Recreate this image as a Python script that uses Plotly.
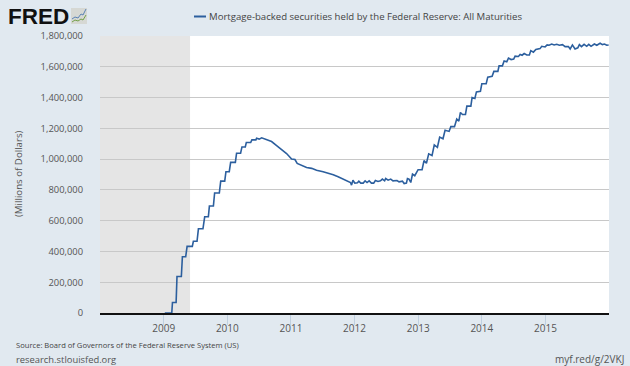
import plotly.graph_objects as go

series_name = "Mortgage-backed securities held by the Federal Reserve: All Maturities"
source_text = "Source: Board of Governors of the Federal Reserve System (US)"
site_text = "research.stlouisfed.org"
short_url = "myf.red/g/2VKJ"
axis_title = "(Millions of Dollars)"

recession_start = "2008-01-01"
recession_end = "2009-06-01"

dates_2009_2010 = [
    "2009-01-07", "2009-02-16", "2009-02-20", "2009-03-13", "2009-03-18", "2009-04-12", "2009-04-18",
    "2009-05-07", "2009-05-15", "2009-06-14", "2009-06-20", "2009-07-11", "2009-07-19", "2009-08-14", "2009-08-24",
    "2009-09-14", "2009-09-20", "2009-10-13", "2009-10-20", "2009-11-16", "2009-11-24", "2009-12-17", "2009-12-24",
    "2010-01-12", "2010-01-20", "2010-02-16", "2010-02-23", "2010-03-18", "2010-03-26", "2010-04-14", "2010-04-20",
    "2010-05-15", "2010-05-22", "2010-06-14", "2010-06-18", "2010-07-03", "2010-07-17", "2010-08-05", "2010-08-18",
    "2010-09-12", "2010-10-11", "2010-11-09", "2010-12-07",
]
values_2009_2010 = [
    0, 0, 68, 68, 237, 237, 366,
    366, 433, 433, 466, 466, 547, 547, 625,
    625, 695, 695, 780, 780, 857, 857, 918,
    918, 979, 979, 1038, 1038, 1079, 1079, 1108,
    1108, 1125, 1125, 1136, 1130, 1138, 1130, 1127,
    1114, 1088, 1060, 1036,
]

dates_2011_2013 = [
    "2011-01-05", "2011-01-24", "2011-02-06", "2011-03-03", "2011-04-01", "2011-04-30", "2011-05-28", "2011-07-05",
    "2011-08-03", "2011-09-01", "2011-09-29", "2011-10-28", "2011-11-16", "2011-12-09", "2011-12-15", "2011-12-23",
    "2012-01-03", "2012-01-18", "2012-01-26", "2012-02-06", "2012-02-20", "2012-03-02", "2012-03-13", "2012-03-25",
    "2012-04-07", "2012-04-20", "2012-04-30", "2012-05-15", "2012-05-29", "2012-06-09", "2012-06-22", "2012-06-28",
    "2012-07-12", "2012-07-27", "2012-08-09", "2012-09-01", "2012-09-13", "2012-10-02", "2012-10-12", "2012-10-25",
    "2012-10-31", "2012-11-09", "2012-11-19", "2012-11-29", "2012-12-12", "2012-12-22", "2012-12-31", "2013-01-23",
    "2013-02-03", "2013-02-17", "2013-03-02", "2013-03-21", "2013-04-03", "2013-04-21", "2013-05-04", "2013-05-23",
    "2013-06-04", "2013-06-27",
]
values_2011_2013 = [
    1001, 997, 972, 961, 946, 940, 927, 918,
    909, 898, 885, 868, 857, 848, 831, 863,
    844, 846, 857, 844, 844, 859, 848, 859,
    844, 844, 861, 855, 859, 870, 859, 874,
    863, 870, 859, 861, 852, 857, 841, 844,
    874, 870, 848, 903, 892, 918, 931, 931,
    990, 973, 1034, 1023, 1093, 1077, 1143, 1132,
    1187, 1180,
]

dates_2013_2015 = [
    "2013-07-07", "2013-07-28", "2013-08-10", "2013-08-22", "2013-08-31", "2013-09-12", "2013-09-29", "2013-10-07",
    "2013-10-30", "2013-11-06", "2013-11-22", "2013-12-01", "2013-12-24", "2014-01-01", "2014-01-26", "2014-02-04",
    "2014-03-01", "2014-03-11", "2014-04-03", "2014-04-10", "2014-04-29", "2014-05-09", "2014-05-24", "2014-06-03",
    "2014-06-18", "2014-07-03", "2014-07-11", "2014-07-30", "2014-08-09", "2014-08-20", "2014-09-01", "2014-09-16",
    "2014-10-01", "2014-10-09", "2014-10-24", "2014-11-07", "2014-12-01", "2014-12-11", "2014-12-30", "2015-01-11",
    "2015-01-22", "2015-02-06", "2015-02-20", "2015-03-07", "2015-03-22", "2015-04-09", "2015-04-24", "2015-05-13",
    "2015-05-23", "2015-06-05", "2015-06-20", "2015-07-06", "2015-07-15", "2015-07-27", "2015-08-11", "2015-08-26",
    "2015-09-07", "2015-09-20", "2015-10-09", "2015-10-23", "2015-11-11", "2015-11-24", "2015-12-06", "2015-12-19",
    "2015-12-30",
]
values_2013_2015 = [
    1211, 1211, 1260, 1247, 1303, 1290, 1290, 1344,
    1344, 1400, 1394, 1437, 1441, 1490, 1490, 1533,
    1538, 1570, 1570, 1606, 1606, 1637, 1632, 1656,
    1647, 1650, 1669, 1667, 1680, 1675, 1686, 1677,
    1677, 1705, 1695, 1712, 1718, 1733, 1729, 1742,
    1740, 1748, 1742, 1746, 1740, 1744, 1731, 1731,
    1716, 1742, 1716, 1723, 1744, 1731, 1746, 1733,
    1746, 1733, 1748, 1740, 1753, 1744, 1748, 1740,
    1742,
]

dates = dates_2009_2010 + dates_2011_2013 + dates_2013_2015
values = [v * 1000 for v in values_2009_2010 + values_2011_2013 + values_2013_2015]

BG = "#e1e9f0"
LINE = "#2c5f9e"
TXT = "#555555"
FONT = "Open Sans"

W, H = 630, 366
L, R, T, B = 100, 21, 36, 53
PW, PH = W - L - R, H - T - B


def px(x):
    return (x - L) / PW


def py(y):
    return (H - B - y) / PH


fig = go.Figure(go.Scatter(x=dates, y=values, mode="lines", name=series_name,
                           line=dict(color=LINE, width=1.6), showlegend=False))

shapes = [
    dict(type="rect", xref="x", yref="paper", x0=recession_start, x1=recession_end, y0=0, y1=1,
         fillcolor="#e5e5e5", line_width=0, layer="below"),
    dict(type="line", xref="paper", yref="paper", x0=px(194), x1=px(206), y0=py(16.5), y1=py(16.5),
         line=dict(color=LINE, width=2)),
    dict(type="rect", xref="paper", yref="paper", x0=px(71), x1=px(87), y0=py(8), y1=py(24),
         fillcolor="#d6d8d4", line_width=0),
    dict(type="path", xref="paper", yref="paper",
         path=f"M {px(72)} {py(19)} L {px(75)} {py(17)} L {px(78)} {py(18)} L {px(81)} {py(14)} L {px(83)} {py(15)} L {px(86)} {py(9)}",
         line=dict(color="#5b83b5", width=1)),
    dict(type="path", xref="paper", yref="paper",
         path=f"M {px(72)} {py(22)} L {px(75)} {py(20)} L {px(78)} {py(21)} L {px(81)} {py(19)} L {px(83)} {py(20)} L {px(86)} {py(15)}",
         line=dict(color="#74a04a", width=1)),
]


def note(text, x, y, size, color=TXT, xanchor="left", family=FONT, **kw):
    return dict(text=text, x=px(x), y=py(y), xref="paper", yref="paper", showarrow=False,
                xanchor=xanchor, yanchor="middle", font=dict(size=size, color=color, family=family), **kw)


annotations = [
    note("<b>FRED</b>", 6, 16, 22.5, color="#111111", family="Liberation Sans"),
    note(series_name, 207, 16.5, 9.6, color="#444444"),
    note(source_text, 14, 345, 7.6, color="#444444"),
    note(site_text, 14, 359, 9.4),
    note(short_url, 626, 359, 10, xanchor="right"),
    note(axis_title, 18, 174, 9.7, xanchor="center", textangle=-90),
]

fig.update_layout(
    width=W, height=H,
    margin=dict(l=L, r=R, t=T, b=B, pad=0),
    paper_bgcolor=BG, plot_bgcolor="#ffffff",
    font=dict(family=FONT, color=TXT, size=10),
    shapes=shapes, annotations=annotations,
    xaxis=dict(
        type="date", range=["2008-01-01", "2016-01-01"],
        tickvals=["2009-01-01", "2010-01-01", "2011-01-01", "2012-01-01", "2013-01-01", "2014-01-01", "2015-01-01"],
        ticktext=["2009", "2010", "2011", "2012", "2013", "2014", "2015"],
        showgrid=False, zeroline=False, showline=True, linecolor="#111111", linewidth=2,
        ticks="outside", ticklen=10, tickcolor="#c0d0e0", tickwidth=1, ticklabelstandoff=-5,
        tickfont=dict(size=10, color=TXT, family=FONT),
    ),
    yaxis=dict(
        range=[0, 1800000], tickvals=list(range(0, 1800001, 200000)), tickformat=",",
        showgrid=True, gridcolor="#c8c8c8", gridwidth=1, zeroline=False, showline=False,
        ticks="", ticklabelstandoff=16,
        tickfont=dict(size=9.4, color=TXT, family=FONT),
    ),
)

fig.write_html("out.html", config={"displayModeBar": False},
               post_script=f"document.body.style.margin='0';document.body.style.background='{BG}';")
